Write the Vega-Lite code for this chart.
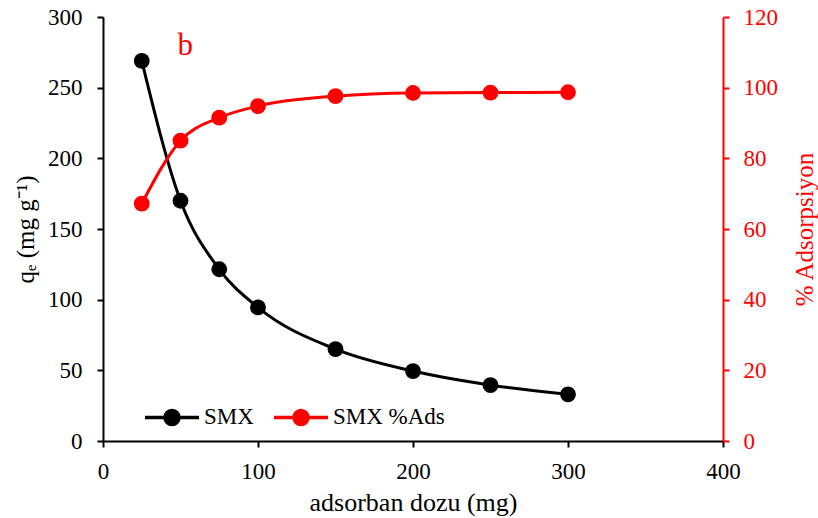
{
  "$schema": "https://vega.github.io/schema/vega-lite/v6.json",
  "width": 620,
  "height": 424,
  "autosize": {"type": "none"},
  "padding": {"left": 103, "top": 17, "right": 95, "bottom": 77},
  "background": "white",
  "config": {
    "view": {"stroke": null},
    "font": "Liberation Serif",
    "style": {
      "guide-label": {"font": "Liberation Serif", "fontSize": 23},
      "guide-title": {"font": "Liberation Serif", "fontSize": 25, "fontWeight": "normal"}
    },
    "axis": {
      "grid": false,
      "labelFont": "Liberation Serif",
      "titleFont": "Liberation Serif",
      "labelFontSize": 23,
      "titleFontSize": 25,
      "titleFontWeight": "normal",
      "tickSize": 6,
      "tickWidth": 2,
      "domainWidth": 2,
      "labelPadding": 13,
      "labelFlush": false
    },
    "legend": {"labelFont": "Liberation Serif", "labelFontSize": 23}
  },
  "data": {
    "values": [
      {"dose": 25, "value": 269, "series": "SMX"},
      {"dose": 50, "value": 170, "series": "SMX"},
      {"dose": 75, "value": 121.5, "series": "SMX"},
      {"dose": 100, "value": 94.5, "series": "SMX"},
      {"dose": 150, "value": 65, "series": "SMX"},
      {"dose": 200, "value": 49.5, "series": "SMX"},
      {"dose": 250, "value": 39.5, "series": "SMX"},
      {"dose": 300, "value": 33, "series": "SMX"},
      {"dose": 25, "value": 67.2, "series": "SMX %Ads"},
      {"dose": 50, "value": 85, "series": "SMX %Ads"},
      {"dose": 75, "value": 91.5, "series": "SMX %Ads"},
      {"dose": 100, "value": 94.8, "series": "SMX %Ads"},
      {"dose": 150, "value": 97.6, "series": "SMX %Ads"},
      {"dose": 200, "value": 98.5, "series": "SMX %Ads"},
      {"dose": 250, "value": 98.6, "series": "SMX %Ads"},
      {"dose": 300, "value": 98.7, "series": "SMX %Ads"}
    ]
  },
  "encoding": {
    "x": {
      "field": "dose",
      "type": "quantitative",
      "scale": {"domain": [0, 400], "nice": false},
      "axis": {"values": [0, 100, 200, 300, 400], "title": "adsorban dozu (mg)", "titlePadding": 6, "titleFontSize": 26, "labelFont": "Liberation Serif", "titleFont": "Liberation Serif", "labelFontSize": 23, "labelFlush": false, "domainColor": "black", "tickColor": "black", "labelColor": "black", "titleColor": "black"}
    },
    "color": {
      "field": "series",
      "type": "nominal",
      "scale": {"domain": ["SMX", "SMX %Ads"], "range": ["black", "#ff0000"]},
      "legend": {
        "title": null,
        "orient": "none",
        "direction": "horizontal",
        "legendX": 40,
        "legendY": 371,
        "symbolType": "M-1,0L1,0M-0.26,0A0.26,0.26,0,1,1,0.26,0A0.26,0.26,0,1,1,-0.26,0Z",
        "symbolSize": 2916,
        "symbolStrokeWidth": 3.5,
        "labelOffset": 3,
        "columnPadding": 13,
        "labelFont": "Liberation Serif",
        "labelFontSize": 23,
        "encode": {
          "symbols": {"update": {"stroke": {"scale": "color", "field": "value"}, "fill": {"scale": "color", "field": "value"}, "opacity": {"value": 1}, "strokeWidth": {"value": 3.5}}}
        }
      }
    }
  },
  "layer": [
    {
      "transform": [{"filter": "datum.series === 'SMX'"}],
      "encoding": {
        "y": {
          "field": "value",
          "type": "quantitative",
          "scale": {"domain": [0, 300], "nice": false},
          "axis": {"orient": "left", "values": [0, 50, 100, 150, 200, 250, 300], "title": "qₑ (mg g⁻¹)", "titlePadding": 9, "labelPadding": 15, "labelFont": "Liberation Serif", "titleFont": "Liberation Serif", "labelFontSize": 23, "domainColor": "black", "tickColor": "black", "labelColor": "black", "titleColor": "black"}
        }
      },
      "layer": [
        {"mark": {"type": "line", "interpolate": "monotone", "strokeWidth": 3}},
        {"mark": {"type": "point", "filled": true, "size": 250, "opacity": 1}}
      ]
    },
    {
      "encoding": {
        "y": {
          "field": "value",
          "type": "quantitative",
          "scale": {"domain": [0, 120], "nice": false},
          "axis": {"orient": "right", "values": [0, 20, 40, 60, 80, 100, 120], "title": "% Adsorpsiyon", "titleAngle": 270, "titlePadding": 40, "labelPadding": 14, "labelFont": "Liberation Serif", "titleFont": "Liberation Serif", "labelFontSize": 23, "domainColor": "#ff0000", "tickColor": "#ff0000", "labelColor": "#ff0000", "titleColor": "#ff0000"}
        }
      },
      "layer": [
        {
          "transform": [{"filter": "datum.series === 'SMX %Ads'"}],
          "layer": [
            {"mark": {"type": "line", "interpolate": "monotone", "strokeWidth": 3}},
            {"mark": {"type": "point", "filled": true, "size": 250, "opacity": 1}}
          ]
        },
        {
          "data": {"values": [{"dose": 53, "value": 109.3, "label": "b"}]},
          "mark": {"type": "text", "font": "Liberation Serif", "fontSize": 31, "baseline": "alphabetic", "align": "center"},
          "encoding": {"text": {"field": "label"}, "color": {"value": "#ff0000"}}
        }
      ]
    }
  ],
  "resolve": {"scale": {"y": "independent"}}
}
